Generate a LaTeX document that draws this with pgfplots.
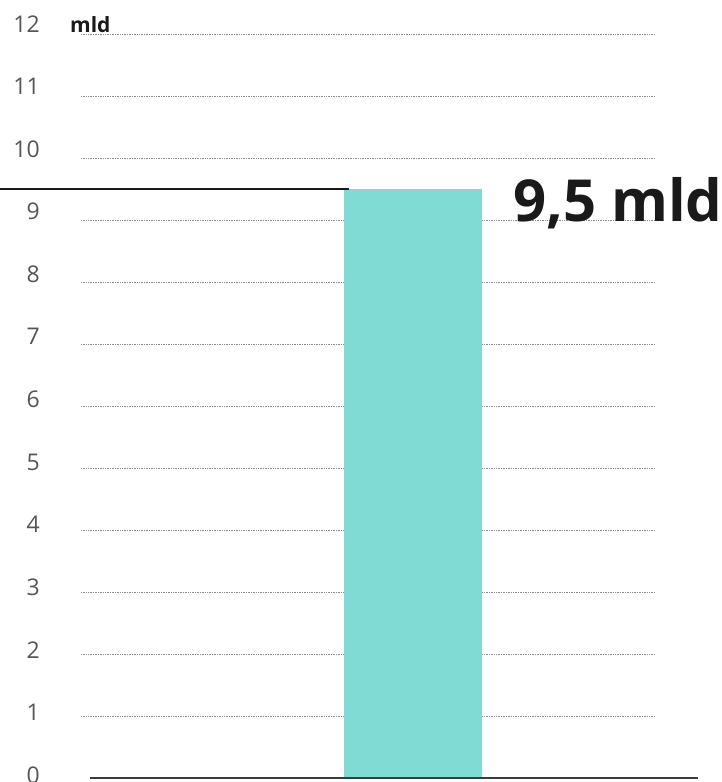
\documentclass[border=0pt]{standalone}
\usepackage{pgfplots}
\pgfplotsset{compat=1.18}
\usepackage{fontspec}
\setmainfont{Open Sans}
\definecolor{barc}{HTML}{7FDBD3}
\definecolor{dark}{HTML}{1A1A1A}
\definecolor{tickc}{HTML}{555555}
\definecolor{gridc}{HTML}{8A8A8A}
\begin{document}
\begin{tikzpicture}
\path[use as bounding box] (0,0) rectangle (722pt,782pt);
\begin{axis}[at={(0,0)}, anchor=south west, scale only axis,
  width=722pt, height=782pt, xmin=0, xmax=722, ymin=-0.0645, ymax=12.548,
  hide axis, clip=false]
\pgfplotsinvokeforeach{1,...,12}{
  \addplot[gridc, densely dotted, line width=0.7pt, forget plot] coordinates {(81,#1) (655,#1)};
}
\addplot[ybar, bar width=138, fill=barc, draw=none] coordinates {(413,9.5)};
\addplot[dark, line width=2.5pt] coordinates {(0,9.5) (349,9.5)};
\addplot[dark!85, line width=2.2pt] coordinates {(90,0) (698,0)};
\pgfplotsinvokeforeach{0,...,12}{
  \node[anchor=east, text=tickc, font=\fontsize{23}{23}\selectfont, inner sep=0pt] at (axis cs:40,{(3+62.6*#1)/62}) {#1};
}
\node[anchor=base west, inner sep=0pt, text=dark, font=\fontsize{21}{21}\selectfont\bfseries] at (axis cs:70,12.03) {mld};
\node[anchor=base west, inner sep=0pt, text=dark, font=\fontsize{58}{58}\selectfont\bfseries] at (axis cs:513,8.968) {9,5 mld};
\end{axis}
\end{tikzpicture}
\end{document}
